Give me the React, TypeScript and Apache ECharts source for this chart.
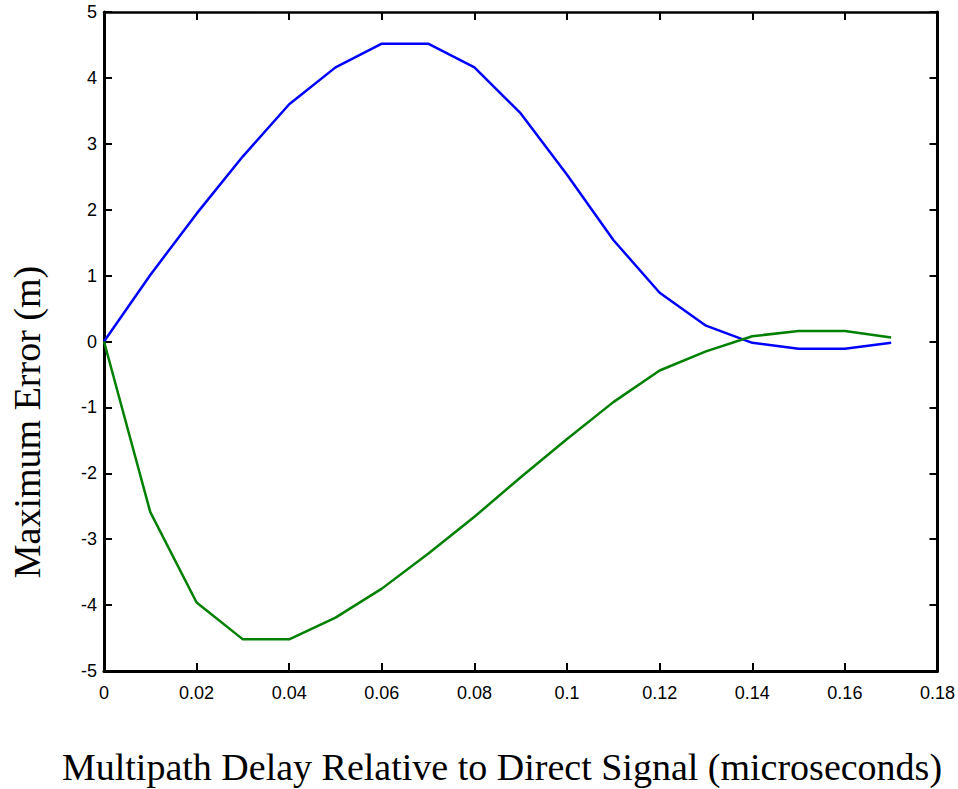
import React, { useEffect, useRef } from "react";
import * as echarts from "echarts";

const delays = [0, 0.01, 0.02, 0.03, 0.04, 0.05, 0.06, 0.07, 0.08, 0.09, 0.1, 0.11, 0.12, 0.13, 0.14, 0.15, 0.16, 0.17];
const upperError = [0, 1.01, 1.94, 2.81, 3.6, 4.16, 4.52, 4.52, 4.16, 3.46, 2.53, 1.54, 0.74, 0.24, -0.02, -0.11, -0.11, -0.02];
const lowerError = [0, -2.59, -3.96, -4.52, -4.52, -4.19, -3.75, -3.22, -2.66, -2.06, -1.48, -0.92, -0.44, -0.15, 0.08, 0.16, 0.16, 0.06];

const xTitle = "Multipath Delay Relative to Direct Signal (microseconds)";
const yTitle = "Maximum Error (m)";

export default function App() {
  const ref = useRef<HTMLDivElement>(null);
  useEffect(() => {
    document.body.style.margin = "0";
    const chart = echarts.init(ref.current!, null, { renderer: "svg" });
    const labelFont = { fontFamily: "Liberation Sans", fontSize: 18, color: "#000" };
    const axisLine = { show: true, onZero: false, lineStyle: { color: "#000", width: 3 } };
    const axisTick = { show: true, inside: true, length: 8, lineStyle: { color: "#000", width: 2 } };
    const titleStyle = { fontFamily: "Liberation Serif", fontSize: 38, fill: "#000" };
    chart.setOption({
      animation: false,
      backgroundColor: "#fff",
      grid: { left: 104, top: 12, right: 19, bottom: 118, containLabel: false },
      xAxis: [
        {
          type: "value",
          min: 0,
          max: 0.18,
          interval: 0.02,
          position: "bottom",
          axisLine,
          axisTick,
          splitLine: { show: false },
          axisLabel: { ...labelFont, margin: 13 },
        },
        {
          type: "value",
          min: 0,
          max: 0.18,
          interval: 0.02,
          position: "top",
          axisLine: { ...axisLine, lineStyle: { color: "#000", width: 2.5 } },
          axisTick,
          splitLine: { show: false },
          axisLabel: { show: false },
        },
      ],
      yAxis: [
        {
          type: "value",
          min: -5,
          max: 5,
          interval: 1,
          position: "left",
          axisLine,
          axisTick,
          splitLine: { show: false },
          axisLabel: { ...labelFont, margin: 7 },
        },
        {
          type: "value",
          min: -5,
          max: 5,
          interval: 1,
          position: "right",
          axisLine,
          axisTick,
          splitLine: { show: false },
          axisLabel: { show: false },
        },
      ],
      graphic: [
        {
          type: "text",
          x: 502,
          y: 767,
          style: { ...titleStyle, text: xTitle, align: "center", verticalAlign: "middle" },
        },
        {
          type: "text",
          x: 27,
          y: 422,
          rotation: Math.PI / 2,
          style: { ...titleStyle, text: yTitle, align: "center", verticalAlign: "middle" },
        },
      ],
      series: [
        {
          type: "line",
          data: delays.map((d, i) => [d, upperError[i]]),
          showSymbol: false,
          lineStyle: { color: "#0000ff", width: 2.5 },
          itemStyle: { color: "#0000ff" },
        },
        {
          type: "line",
          data: delays.map((d, i) => [d, lowerError[i]]),
          showSymbol: false,
          lineStyle: { color: "#008000", width: 2.5 },
          itemStyle: { color: "#008000" },
        },
      ],
    });
    return () => chart.dispose();
  }, []);
  return <div ref={ref} style={{ width: 958, height: 789 }} />;
}
